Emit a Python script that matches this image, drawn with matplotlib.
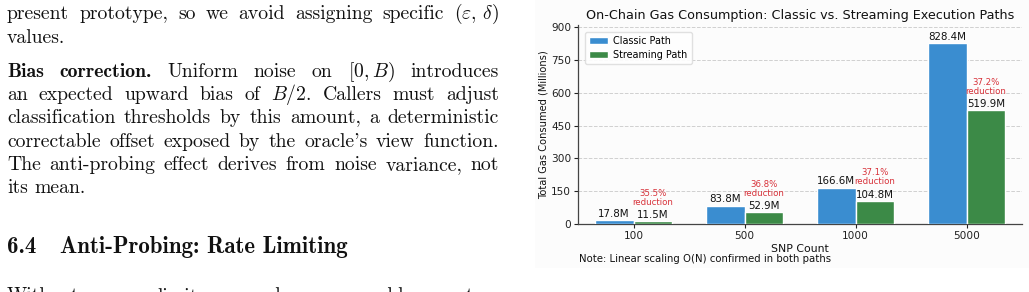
import matplotlib
matplotlib.use('Agg')
import matplotlib.pyplot as plt
import numpy as np
from matplotlib.font_manager import FontProperties
from matplotlib.patches import Rectangle

# ---------------- chart data ----------------
snp_counts = ['100', '500', '1000', '5000']
classic_gas = [17.8, 83.8, 166.6, 828.4]
streaming_gas = [11.5, 52.9, 104.8, 519.9]
reduction_pct = [35.5, 36.8, 37.1, 37.2]
y_ticks = [0, 150, 300, 450, 600, 750, 900]

# ---------------- page text ----------------
body_lines = [
    (19, True, [("present", 'r'), ("prototype,", 'r'), ("so", 'r'), ("we", 'r'), ("avoid", 'r'),
                ("assigning", 'r'), ("specific", 'r'), (r"$(\varepsilon,\,\delta)$", 'r')]),
    (43, False, [("values.", 'r')]),
    (77, True, [("Bias", 'b'), ("correction.", 'b'), ("Uniform", 'r'), ("noise", 'r'), ("on", 'r'),
                (r"$[0,B)$", 'r'), ("introduces", 'r')]),
    (100, True, [("an", 'r'), ("expected", 'r'), ("upward", 'r'), ("bias", 'r'), ("of", 'r'),
                 (r"$B/2$.", 'r'), ("Callers", 'r'), ("must", 'r'), ("adjust", 'r')]),
    (123, True, [("classification", 'r'), ("thresholds", 'r'), ("by", 'r'), ("this", 'r'),
                 ("amount,", 'r'), ("a", 'r'), ("deterministic", 'r')]),
    (147, True, [("correctable", 'r'), ("offset", 'r'), ("exposed", 'r'), ("by", 'r'), ("the", 'r'),
                 ("oracle's", 'r'), ("view", 'r'), ("function.", 'r')]),
    (170, True, [("The", 'r'), ("anti-probing", 'r'), ("effect", 'r'), ("derives", 'r'), ("from", 'r'),
                 ("noise", 'r'), ("variance,", 'r'), ("not", 'r')]),
    (193, False, [("its", 'r'), ("mean.", 'r')]),
    (301, True, [("Without", 'r'), ("query", 'r'), ("limits,", 'r'), ("an", 'r'), ("adversary", 'r'),
                 ("could", 'r'), ("mount", 'r'), ("a", 'r')]),
]

W, H = 1029, 292
plt.rcParams['mathtext.fontset'] = 'cm'
fig = plt.figure(figsize=(W / 100, H / 100), dpi=100)

# faint background of embedded chart image
fig.patches.append(Rectangle((535 / W, 1 - 268 / H), (W - 535) / W, 268 / H,
                             transform=fig.transFigure, facecolor='#fcfcfc',
                             edgecolor='none', zorder=-5))

fs_body = 14.2
fp_r = FontProperties(family='cmr10', size=fs_body)
fp_b = FontProperties(family='cmb10', size=fs_body)
fp_h = FontProperties(family='cmb10', size=16.5)

fig.canvas.draw()
renderer = fig.canvas.get_renderer()

X0, X1 = 7, 499
space_px = 6.5


def place_line(y, justify, tokens):
    texts = []
    for tok, sty in tokens:
        fp = fp_b if sty == 'b' else fp_r
        t = fig.text(0, 1 - y / H, tok, fontproperties=fp, va='baseline', ha='left',
                     color='#111111')
        texts.append(t)
    widths = [t.get_window_extent(renderer).width for t in texts]
    if justify and len(texts) > 1:
        gap = (X1 - X0 - sum(widths)) / (len(texts) - 1)
    else:
        gap = space_px
    x = X0
    for t, w in zip(texts, widths):
        t.set_x(x / W)
        x += w + gap


for y, just, toks in body_lines:
    place_line(y, just, toks)

fig.text(X0 / W, 1 - 253 / H, "6.4", fontproperties=fp_h, va='baseline', ha='left', color='#111111')
fig.text(60 / W, 1 - 253 / H, "Anti-Probing: Rate Limiting", fontproperties=fp_h,
         va='baseline', ha='left', color='#111111')

# ---------------- chart ----------------
blue = '#3a8dd0'
green = '#3c8a47'
red = '#d8323a'

ax = fig.add_axes([578 / W, 1 - 224 / H, (1022 - 578) / W, (224 - 25) / H])
ax.set_facecolor('#fcfcfc')
x = np.arange(len(snp_counts))
w = 0.35
ax.bar(x - w / 2, classic_gas, w, color=blue, edgecolor='white', linewidth=1,
       label='Classic Path', zorder=3)
ax.bar(x + w / 2, streaming_gas, w, color=green, edgecolor='white', linewidth=1,
       label='Streaming Path', zorder=3)

for i in range(len(snp_counts)):
    ax.annotate(f'{classic_gas[i]:.1f}M', (x[i] - w / 2, classic_gas[i]), xytext=(0, 1),
                textcoords='offset points', ha='center', va='bottom', fontsize=7.4, color='#111111')
    ax.annotate(f'{streaming_gas[i]:.1f}M', (x[i] + w / 2, streaming_gas[i]), xytext=(0, 1),
                textcoords='offset points', ha='center', va='bottom', fontsize=7.4, color='#111111')
    ax.annotate(f'{reduction_pct[i]:.1f}%\nreduction', (x[i] + w / 2, streaming_gas[i]),
                xytext=(0, 17), textcoords='offset points', ha='center', va='center',
                fontsize=6.2, color=red, linespacing=1.0)

ax.set_xlim(-0.5, 3.5)
ax.set_ylim(0, 911)
ax.set_yticks(y_ticks)
ax.set_xticks(x)
ax.set_xticklabels(snp_counts)
ax.tick_params(labelsize=7.6, length=3, width=0.8, colors='#222222', pad=2)
ax.grid(axis='y', linestyle='--', color='#d0d0d0', linewidth=0.7, zorder=0)
for s in ['top', 'right']:
    ax.spines[s].set_visible(False)
for s in ['left', 'bottom']:
    ax.spines[s].set_color('#444444')
    ax.spines[s].set_linewidth(0.9)

ax.set_title('On-Chain Gas Consumption: Classic vs. Streaming Execution Paths',
             fontsize=9.2, pad=4, color='#111111')
ax.set_xlabel('SNP Count', fontsize=7.8, labelpad=2, color='#111111')
ax.set_ylabel('Total Gas Consumed (Millions)', fontsize=7.1, labelpad=1.5, color='#111111')
ax.legend(loc='upper left', fontsize=6.9, frameon=True, framealpha=0.9, edgecolor='#dddddd',
          handlelength=2.0, handletextpad=0.5, borderpad=0.45, labelspacing=0.4,
          bbox_to_anchor=(0.005, 0.99))

fig.text(579 / W, 1 - 259 / H, 'Note: Linear scaling O(N) confirmed in both paths',
         fontsize=7.3, va='center', ha='left', color='#111111')

fig.savefig('out.png', dpi=100)
